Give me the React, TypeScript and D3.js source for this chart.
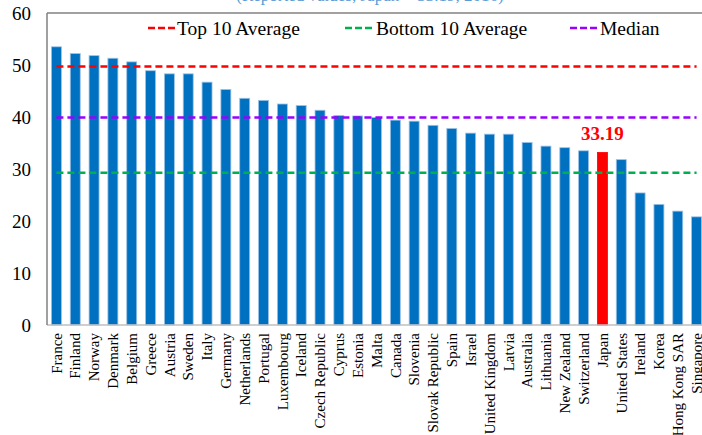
import React from "react";
import * as d3 from "d3";

const countries = [
  "France", "Finland", "Norway", "Denmark", "Belgium", "Greece", "Austria", "Sweden", "Italy", "Germany",
  "Netherlands", "Portugal", "Luxembourg", "Iceland", "Czech Republic", "Cyprus", "Estonia", "Malta", "Canada", "Slovenia",
  "Slovak Republic", "Spain", "Israel", "United Kingdom", "Latvia", "Australia", "Lithuania", "New Zealand", "Switzerland", "Japan",
  "United States", "Ireland", "Korea", "Hong Kong SAR", "Singapore",
];
const values = [
  53.5, 52.2, 51.8, 51.3, 50.6, 48.9, 48.3, 48.3, 46.7, 45.3,
  43.6, 43.2, 42.5, 42.2, 41.3, 40.3, 40.2, 39.9, 39.4, 39.2,
  38.4, 37.8, 36.9, 36.7, 36.7, 35.1, 34.4, 34.1, 33.5, 33.19,
  31.8, 25.4, 23.2, 21.9, 20.8,
];
const highlight = "Japan";
const highlightLabel = "33.19";
const refLines = [
  { name: "Top 10 Average", value: 49.7, color: "#FF0000" },
  { name: "Bottom 10 Average", value: 29.3, color: "#00B050" },
  { name: "Median", value: 39.9, color: "#9900FF" },
];
const yTicks = [0, 10, 20, 30, 40, 50, 60];
const titleText = "(Reported values, Japan = 33.19, 2016)";

const W = 702, H = 435;
const left = 47, right = 706, top = 13, bottom = 325;
const serif = { fontFamily: "Liberation Serif, serif" };

export default function App() {
  const x = d3.scaleBand<string>().domain(countries).range([left, right]).paddingInner(0.47).paddingOuter(0.235);
  const y = d3.scaleLinear().domain([0, 60]).range([bottom, top]);
  const c0 = x(countries[0])! + x.bandwidth() / 2;
  const c1 = x(countries[countries.length - 1])! + x.bandwidth() / 2;
  const legendPos = [
    { dash: 148, text: 177 },
    { dash: 345, text: 376 },
    { dash: 570, text: 600 },
  ];
  const hx = x(highlight)! + x.bandwidth() / 2;
  const hv = values[countries.indexOf(highlight)];
  return (
    <svg width={W} height={H} style={{ position: "absolute", left: 0, top: 0, background: "#fff" }}>
      <text x={370} y={1} textAnchor="middle" fontSize={17} fill="#5B9BD5" style={serif}>{titleText}</text>
      {countries.map((c, i) => (
        <rect key={c} x={x(c)} y={y(values[i])} width={x.bandwidth()} height={bottom - y(values[i])}
          fill={c === highlight ? "#FF0000" : "#0070C0"} stroke={c === highlight ? "#FF0000" : "#9DC3E6"} strokeWidth={0.8} />
      ))}
      <line x1={left} x2={right} y1={bottom} y2={bottom} stroke="#BFBFBF" strokeWidth={1.5} />
      <line x1={left} x2={right} y1={top} y2={top} stroke="#808080" strokeWidth={1.5} />
      <line x1={left} x2={left} y1={top} y2={bottom} stroke="#808080" strokeWidth={1.5} />
      {refLines.map((r) => (
        <line key={r.name} x1={c0} x2={c1} y1={y(r.value)} y2={y(r.value)} stroke={r.color} strokeWidth={2.5} strokeDasharray="7,4" />
      ))}
      {yTicks.map((t) => (
        <text key={t} x={31} y={y(t)} dy="0.35em" textAnchor="end" fontSize={19} fill="#000" style={serif}>{t}</text>
      ))}
      {countries.map((c) => (
        <text key={c} transform={`translate(${x(c)! + x.bandwidth() / 2},${bottom + 8}) rotate(-90)`}
          textAnchor="end" dy="0.35em" fontSize={15} fill="#000" style={serif}>{c}</text>
      ))}
      <text x={hx} y={y(hv) - 12} textAnchor="middle" fontSize={19} fontWeight="bold" fill="#FF0000" style={serif}>{highlightLabel}</text>
      {refLines.map((r, i) => (
        <g key={r.name}>
          <line x1={legendPos[i].dash} x2={legendPos[i].dash + 27} y1={28} y2={28} stroke={r.color} strokeWidth={2.5} strokeDasharray="7,3" />
          <text x={legendPos[i].text} y={28} dy="0.35em" fontSize={19.5} fill="#000" style={serif}>{r.name}</text>
        </g>
      ))}
    </svg>
  );
}
